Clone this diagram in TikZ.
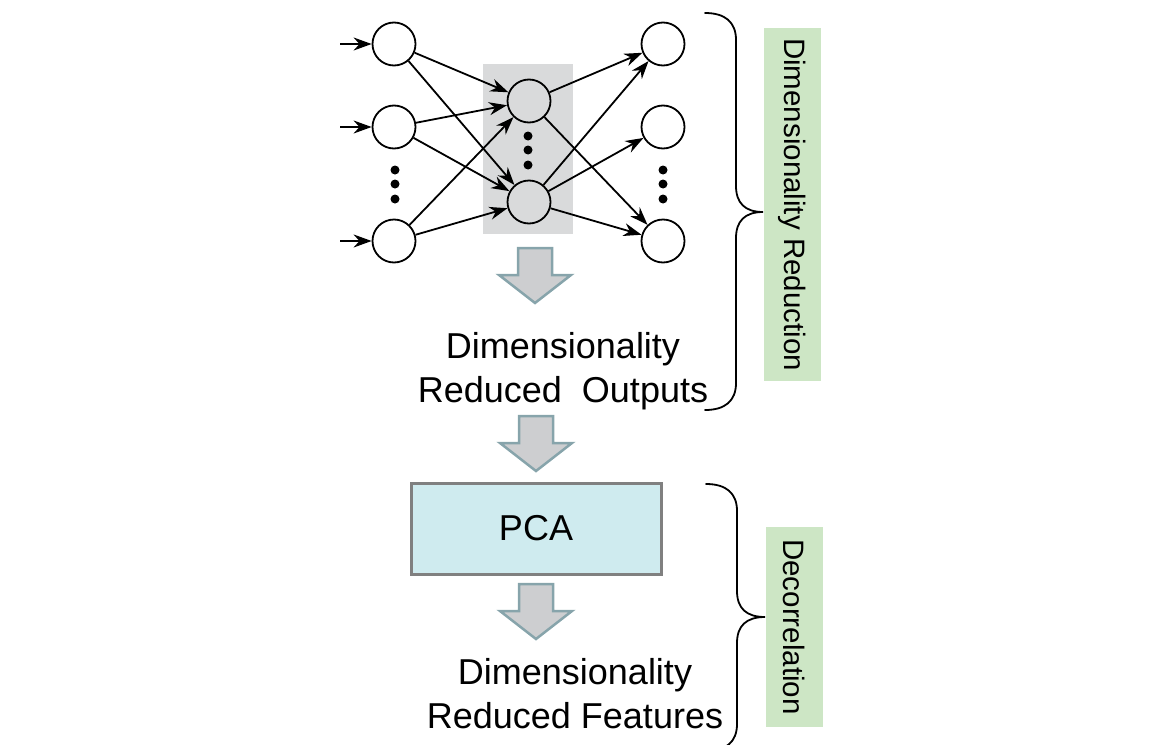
\documentclass[tikz,border=0pt]{standalone}
\usepackage{fontspec}
\setmainfont{Liberation Sans}
\usetikzlibrary{arrows.meta}
\definecolor{panelgray}{HTML}{D9DADB}
\definecolor{arrowfill}{HTML}{CDCED0}
\definecolor{arrowedge}{HTML}{87A4AB}
\definecolor{pcafill}{HTML}{CFEBEF}
\definecolor{pcaedge}{HTML}{808080}
\definecolor{labelgreen}{HTML}{CDE6C5}
% hollow block arrow pointing down: x centre, top, head base, tip
\newcommand\dnarrow[4]{%
  \draw[blockarrow] (#1-17,#2) -- (#1+17,#2) -- (#1+17,#3) -- (#1+36,#3)
    -- (#1,#4) -- (#1-36,#3) -- (#1-17,#3) -- cycle;}
\begin{document}
\begin{tikzpicture}[x=1pt,y=-1pt,
  neuron/.style={circle,draw,line width=1.8pt,minimum size=43pt,inner sep=0pt},
  link/.style={line width=1.8pt,-{Stealth[length=18pt,width=13pt]}},
  dotmark/.style={circle,fill,inner sep=0pt,minimum size=9pt},
  bigtext/.style={font=\fontsize{36}{44}\selectfont,align=center,inner sep=0pt},
  sidelabel/.style={fill=labelgreen,rotate=-90,font=\fontsize{29.5}{34}\selectfont,
    minimum height=57pt,inner sep=0pt},
  bracket/.style={line width=1.8pt,line cap=round},
  blockarrow/.style={fill=arrowfill,draw=arrowedge,line width=2.5pt,line join=miter}]
\useasboundingbox (0,0) rectangle (1150,744);

% hidden layer panel
\fill[panelgray] (483,64) rectangle (573,234);

% neurons
\node[neuron] (l1) at (394,44) {};
\node[neuron] (l2) at (394,127) {};
\node[neuron] (l3) at (394,241) {};
\node[neuron] (m1) at (529,101) {};
\node[neuron] (m2) at (529,202) {};
\node[neuron] (r1) at (663,44) {};
\node[neuron] (r2) at (663,127) {};
\node[neuron] (r3) at (663,241) {};

% ellipsis dots
\foreach \y [count=\i] in {170,184,199} {
  \node[dotmark] (dl\i) at (395,\y) {};
  \node[dotmark] (dr\i) at (663,\y) {};
}
\foreach \y [count=\i] in {136,150,165} {
  \node[dotmark] (dm\i) at (528,\y) {};
}

% inputs
\coordinate (in1) at (340,44);
\coordinate (in2) at (340,127);
\coordinate (in3) at (340,241);
\draw[link] (in1) -- (l1);
\draw[link] (in2) -- (l2);
\draw[link] (in3) -- (l3);

% encoder connections
\foreach \a in {l1,l2,l3} {
  \draw[link] (\a) -- (m1);
  \draw[link] (\a) -- (m2);
}
% decoder connections
\draw[link] (m1) -- (r1);
\draw[link] (m1) -- (r3);
\draw[link] (m2) -- (r1);
\draw[link] (m2) -- (r2);
\draw[link] (m2) -- (r3);

% flow arrows
\dnarrow{535}{248}{275}{303}
\dnarrow{536}{416}{443}{471}
\dnarrow{536}{584}{611}{639}

% texts and PCA block
\node[bigtext] (outs) at (563,371) {Dimensionality\\Reduced\ \ Outputs};
\node[draw=pcaedge,fill=pcafill,line width=3pt,minimum width=250pt,minimum height=91pt,
  font=\fontsize{36}{44}\selectfont] (pca) at (536,528.5) {PCA};
\node[bigtext] (feats) at (575,694) {Dimensionality\\Reduced Features};

% braces
\draw[bracket] (705,13) .. controls (725,13) and (736,22) .. (736,40)
  -- (736,186) .. controls (736,203) and (745,212) .. (763,212)
  .. controls (745,212) and (736,221) .. (736,238)
  -- (736,383) .. controls (736,401) and (725,410) .. (705,410);
\draw[bracket] (706,484) .. controls (726,484) and (737,493) .. (737,511)
  -- (737,591) .. controls (737,608) and (746,617) .. (765,617)
  .. controls (746,617) and (737,626) .. (737,643)
  -- (737,724) .. controls (737,742) and (726,751) .. (706,751);

% side labels
\node[sidelabel,minimum width=353pt] (dimred) at (792.5,204.5) {Dimensionality\ Reduction};
\node[sidelabel,minimum width=200pt] (decor) at (794.5,627) {Decorrelation};
\end{tikzpicture}
\end{document}
